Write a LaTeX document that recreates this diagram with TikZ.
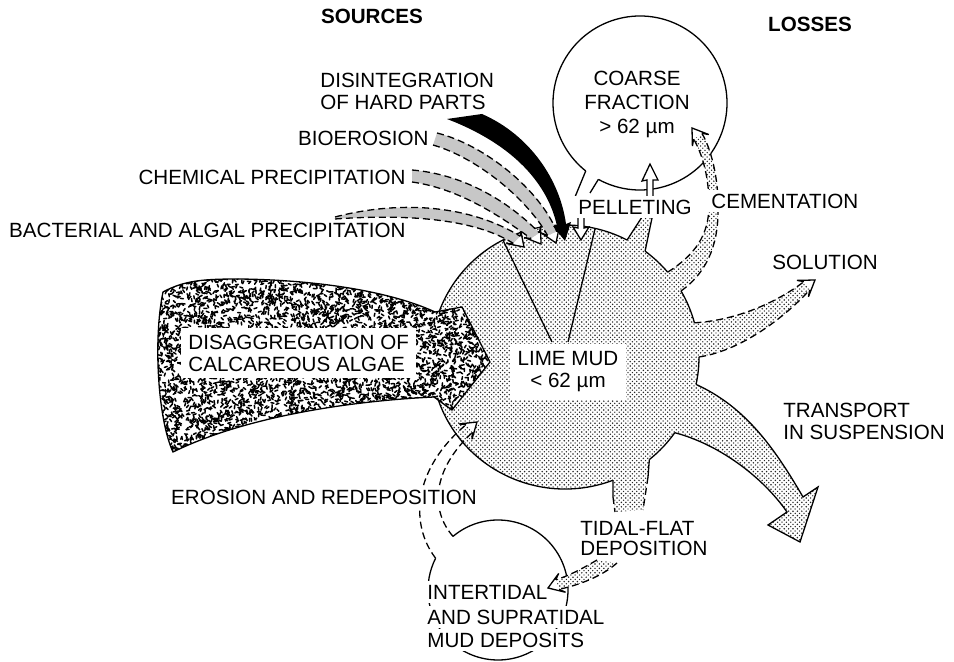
\documentclass[tikz,border=0pt]{standalone}
\usepackage{fontspec}
\setmainfont{Liberation Sans}
\usetikzlibrary{patterns}

% fine stipple for the lime mud
\pgfdeclarepatternformonly{stipple}{\pgfpoint{-0.5pt}{-0.5pt}}{\pgfpoint{2.7pt}{2.7pt}}{\pgfpoint{2.2pt}{2.2pt}}{%
  \pgfpathcircle{\pgfpoint{0.5pt}{0.6pt}}{0.42pt}%
  \pgfpathcircle{\pgfpoint{1.6pt}{1.7pt}}{0.36pt}%
  \pgfusepath{fill}}

% hollow arrow head: name, tip, screen angle
\newcommand{\headpts}[3]{%
  \begin{scope}[shift={(#2)},rotate={-(#3)}]
    \path (-10,-5) coordinate (#1a) (-15,-10) coordinate (#1x)
          (0,0) coordinate (#1t) (-15,10) coordinate (#1y) (-10,5) coordinate (#1b);
  \end{scope}}
\newcommand{\headdraw}[1]{\filldraw[headline] (#1a) -- (#1x) -- (#1t) -- (#1y) -- (#1b);}
\newcommand{\algaeshape}{(163,292) .. controls (185,280) and (205,279) .. (240,279)
  .. controls (320,280) and (392,292) .. (435,312) -- (462,307) -- (490,362) -- (452,410)
  -- (434,397) .. controls (370,400) and (255,412) .. (173,452)
  .. controls (158,420) and (153,340) .. (163,292) -- cycle}

\begin{document}
\begin{tikzpicture}[x=0.5pt,y=-0.5pt,
  every node/.style={font=\fontsize{10.3}{11}\selectfont, inner sep=1pt},
  titletext/.style={font=\fontsize{10.3}{11}\selectfont\bfseries},
  boxtext/.style={fill=white, inner sep=2pt},
  outline/.style={line width=.65pt},
  dashedge/.style={line width=.65pt, dash pattern=on 3.5pt off 2pt},
  headline/.style={line width=.65pt, line join=miter, fill=white},
  stipfill/.style={preaction={fill=white}, pattern=stipple, pattern color=black!85},
  greyfill/.style={fill=black!22},
  speck/.style={line width=.75pt, line cap=round}]
\useasboundingbox (0,0) rectangle (954,662);

\coordinate (C) at (565,357);   % lime mud
\coordinate (K) at (640,103);   % coarse fraction
\coordinate (T) at (498,590);   % tidal deposits

% points on the lime mud rim
\path (C) ++(-62.4:134 and 132) coordinate (pelL)
      (C) ++(-53.3:134 and 132) coordinate (pelR)
      (C) ++(-40:134 and 132) coordinate (cemL)
      (C) ++(-30:134 and 132) coordinate (cemR)
      (C) ++(-15:134 and 132) coordinate (solU)
      (C) ++(0:134 and 132) coordinate (solL)
      (C) ++(12:134 and 132) coordinate (trU)
      (C) ++(35:134 and 132) coordinate (trL)
      (C) ++(51:134 and 132) coordinate (tdR)
      (C) ++(69:134 and 132) coordinate (tdL);
\path (T) ++(-153:70) coordinate (eroL) (T) ++(-130:70) coordinate (eroR);

\headpts{cemh}{692,128}{-125}
\headpts{solh}{815,280}{-35}
\headpts{tdh}{548,588}{160}
\headpts{erh}{477,422}{-40}
\headpts{bah}{524,247}{45}
\headpts{chh}{541,244}{55}
\headpts{bih}{556,243}{68}

% coarse fraction
\draw[outline] (K) ++(118.6:87) arc[start angle=118.6, end angle=-231.4, radius=87];
\draw[outline] (K) ++(128.6:87) -- (575,197);
\draw[outline] (K) ++(118.6:87) -- (590,193);

% lime mud body and outgrowths
\fill[stipfill] (C) ellipse[x radius=134, y radius=132];
\fill[stipfill] (pelL) -- (642,217) -- (652,218) -- (pelR) -- (C) -- cycle;
\fill[stipfill] (cemL) .. controls (695,255) and (709,235) .. (709,205)
  .. controls (709,172) and (700,150) .. (cemha) -- (cemhb)
  .. controls (708,143) and (718,170) .. (718,205)
  .. controls (719,240) and (710,270) .. (cemR) -- (C) -- cycle;
\fill[stipfill] (solU) .. controls (740,320) and (780,300) .. (solha) -- (solhb)
  .. controls (790,312) and (745,350) .. (solL) -- (C) -- cycle;
\fill[stipfill] (trU) .. controls (746,407) and (775,449) .. (803,497) -- (818,487)
  -- (800,542) -- (768,525) -- (787,512) .. controls (762,476) and (718,444) .. (trL)
  -- (C) -- cycle;
\fill[stipfill] (tdL) -- (615,512) -- (643,510) -- (tdR) -- (C) -- cycle;

% rim
\draw[outline] (tdL) arc[start angle=69, end angle=297.6, x radius=134, y radius=132];
\draw[outline] (pelR) arc[start angle=-53.3, end angle=-40, x radius=134, y radius=132];
\draw[outline] (cemR) arc[start angle=-30, end angle=-15, x radius=134, y radius=132];
\draw[outline] (solL) arc[start angle=0, end angle=12, x radius=134, y radius=132];
\draw[outline] (trL) arc[start angle=35, end angle=51, x radius=134, y radius=132];

% outgrowth edges
\draw[outline] (pelL) -- (642,217);
\draw[outline] (pelR) -- (652,218);
\draw[dashedge] (cemL) .. controls (695,255) and (709,235) .. (709,205)
  .. controls (709,172) and (700,150) .. (cemha);
\draw[dashedge] (cemR) .. controls (710,270) and (719,240) .. (718,205)
  .. controls (718,170) and (708,143) .. (cemhb);
\headdraw{cemh}
\draw[dashedge] (solU) .. controls (740,320) and (780,300) .. (solha);
\draw[dashedge] (solL) .. controls (745,350) and (790,312) .. (solhb);
\headdraw{solh}
\draw[outline] (trU) .. controls (746,407) and (775,449) .. (803,497) -- (818,487)
  -- (800,542) -- (768,525) -- (787,512) .. controls (762,476) and (718,444) .. (trL);
\draw[outline] (tdL) -- (613,497);
\draw[dashedge] (613,497) -- (615,512);
\draw[outline] (tdR) -- (648,477);
\draw[dashedge] (648,477) -- (643,510);

% sector lines
\draw[outline] (C) ++(-117.6:134 and 132) -- (552,342);
\draw[outline] (C) ++(-77:134 and 132) -- (568,342);
\node[boxtext, align=center, inner sep=4pt] (mud) at (568,372) {LIME MUD\\< 62 µm};

% tidal deposits
\draw[outline] (T) ++(-130:70) arc[start angle=-130, end angle=207, radius=70];
\node[boxtext, anchor=west] (inter1) at (423,592) {INTERTIDAL};
\node[boxtext, anchor=west] (inter2) at (423,617) {AND SUPRATIDAL};
\node[boxtext, anchor=west] (inter3) at (423,640) {MUD DEPOSITS};

\fill[stipfill] (597,560) .. controls (580,570) and (568,576) .. (tdhb) -- (tdha)
  .. controls (575,586) and (600,578) .. (617,563) -- cycle;
\draw[dashedge] (597,560) .. controls (580,570) and (568,576) .. (tdhb);
\draw[dashedge] (617,563) .. controls (600,578) and (575,586) .. (tdha);
\headdraw{tdh}

% erosion and redeposition
\draw[dashedge] (eroL) .. controls (410,525) and (412,470) .. (erha);
\draw[dashedge] (eroR) .. controls (430,510) and (432,470) .. (erhb);
\headdraw{erh}
\node[boxtext] (erosion) at (324,497) {EROSION AND REDEPOSITION};

% sources from above
\fill[greyfill] (335,217) .. controls (400,200) and (470,205) .. (baha) -- (bahb)
  .. controls (480,222) and (420,213) .. (335,219) -- cycle;
\draw[dashedge] (335,217) .. controls (400,200) and (470,205) .. (baha);
\draw[dashedge] (335,219) .. controls (420,213) and (480,222) .. (bahb);
\headdraw{bah}
\fill[greyfill] (412,170) .. controls (460,174) and (505,198) .. (chha) -- (chhb)
  .. controls (495,212) and (455,188) .. (412,182) -- cycle;
\draw[dashedge] (412,170) .. controls (460,174) and (505,198) .. (chha);
\draw[dashedge] (412,182) .. controls (455,188) and (495,212) .. (chhb);
\headdraw{chh}
\fill[greyfill] (437,133) .. controls (485,145) and (540,190) .. (biha) -- (bihb)
  .. controls (528,200) and (478,158) .. (433,145) -- cycle;
\draw[dashedge] (437,133) .. controls (485,145) and (540,190) .. (biha);
\draw[dashedge] (433,145) .. controls (478,158) and (528,200) .. (bihb);
\headdraw{bih}
\fill (482,114) .. controls (530,135) and (560,180) .. (566,224) -- (571,222)
  -- (565,241) -- (553,226) -- (557,226) .. controls (548,185) and (515,145) .. (447,119)
  -- cycle;

% pelleting
\filldraw[headline] (578,217) -- (578,228) -- (573,227) -- (581,240) -- (589,227)
  -- (584,228) -- (584,217);
\filldraw[headline] (647,197) -- (647,180) -- (642,181) -- (650,164) -- (658,180)
  -- (653,180) -- (653,197);

% disaggregation of algae
\begin{scope}
  \clip \algaeshape;
  \fill[white] (150,270) rectangle (500,460);
  \pgfmathsetseed{7}
  \foreach \k in {1,...,5600}
    \draw[speck] ({152+342*rnd},{274+182*rnd}) -- ++({180*rnd}:3);
\end{scope}
\draw[outline] \algaeshape;
\node[boxtext, align=left, anchor=west, inner sep=3.5pt] (algae) at (181,353)
  {DISAGGREGATION OF\\CALCAREOUS ALGAE};

% labels
\node[titletext] (sources) at (372,16) {SOURCES};
\node[titletext] (losses) at (810,24) {LOSSES};
\node[align=left, anchor=west] (hard) at (318,91) {DISINTEGRATION\\OF HARD PARTS};
\node[anchor=east] (bio) at (431,138) {BIOEROSION};
\node[anchor=east] (chem) at (408,177) {CHEMICAL PRECIPITATION};
\node[anchor=east] (bact) at (408,230) {BACTERIAL AND ALGAL PRECIPITATION};
\node[align=center, font=\fontsize{10.3}{12}\selectfont] (coarse) at (637,104)
  {COARSE\\FRACTION\\> 62 µm};
\node[boxtext, anchor=west] (pellet) at (574,207) {PELLETING};
\node[boxtext, anchor=west] (cement) at (707,201) {CEMENTATION};
\node[anchor=west] (solution) at (770,262) {SOLUTION};
\node[align=left, anchor=west] (transport) at (781,421) {TRANSPORT\\IN SUSPENSION};
\node[align=left, anchor=west, font=\fontsize{10.3}{10}\selectfont] (tidal) at (578,539)
  {TIDAL-FLAT\\DEPOSITION};
\end{tikzpicture}
\end{document}
